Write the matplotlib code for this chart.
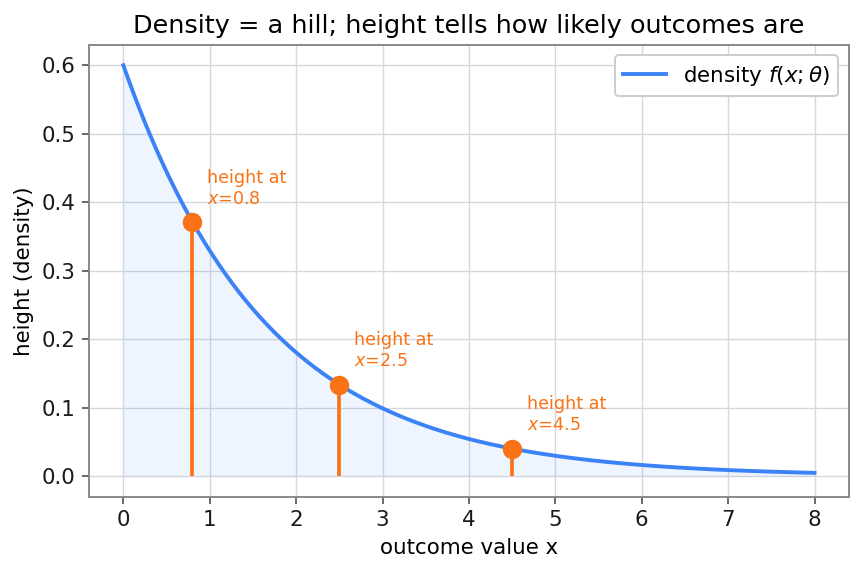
import numpy as np
import matplotlib
matplotlib.use("Agg")
from matplotlib import pyplot as plt

plt.rcParams["font.family"] = ["DejaVu Sans"]
plt.rcParams["mathtext.fontset"] = "dejavusans"

# exponential density with rate theta, as drawn in the reference
theta = 0.6
x_max = 8.0
marked_x = [0.8, 2.5, 4.5]

blue = "#3b82f6"
orange = "#f97316"


def density(x):
    return theta * np.exp(-theta * x)


def main():
    x = np.linspace(0, x_max, 400)
    y = density(x)

    fig, ax = plt.subplots(figsize=(862 / 140, 573 / 140), dpi=140)
    fig.subplots_adjust(top=0.922, bottom=0.133, left=0.103, right=0.985)

    ax.fill_between(x, 0, y, color=blue, alpha=0.08, lw=0)
    ax.plot(x, y, color=blue, lw=2.0, label=r"density $f(x;\theta)$")

    for xm in marked_x:
        ym = density(xm)
        ax.vlines(xm, 0, ym, color=orange, lw=1.9)
        ax.plot(xm, ym, "o", color=orange, ms=9, zorder=5)
        ax.text(xm + 0.17, ym + 0.021, f"height at\n$x$={xm}", color=orange,
                fontsize=9, va="bottom", ha="left")

    ax.grid(True, color="#d4d7dc", lw=0.7)
    ax.set_axisbelow(True)
    for s in ax.spines.values():
        s.set_color("#888888")
        s.set_linewidth(1.0)
    ax.tick_params(colors="#444444", labelcolor="#1a1a1a", labelsize=11)

    ax.set_xticks(range(0, 9))
    ax.set_xlabel("outcome value x", fontsize=11)
    ax.set_ylabel("height (density)", fontsize=11)
    ax.set_title("Density = a hill; height tells how likely outcomes are", fontsize=13.1)
    ax.legend(loc="upper right", fontsize=11, framealpha=1, edgecolor="#cccccc")

    plt.savefig("out.png", dpi=140)


if __name__ == "__main__":
    main()
